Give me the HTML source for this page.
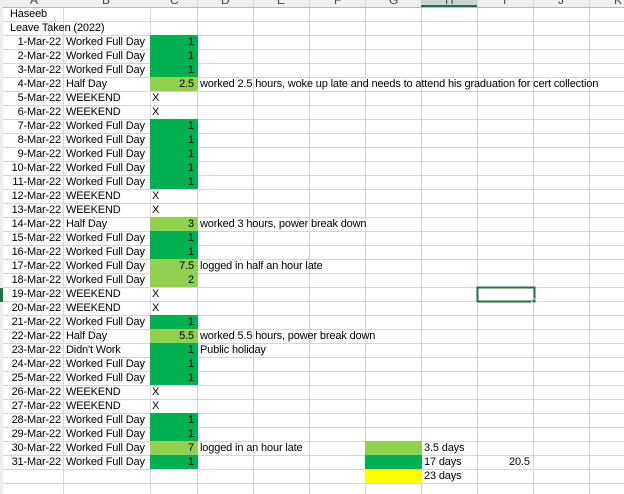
<!DOCTYPE html>
<html><head><style>
html,body{margin:0;padding:0;width:624px;height:494px;overflow:hidden;background:#fff}
.t{position:absolute;font-family:"Liberation Sans",sans-serif;font-size:11px;letter-spacing:-0.15px;line-height:15px;height:14px;white-space:nowrap;color:#000}
.a{right:563px;text-align:right}
.b{left:66px}
.c{right:430px;text-align:right}
.x{left:152px}
.d{left:200px}
.f{position:absolute;left:150px;width:48px;height:14px}
.dg{background:#00b050}.lg{background:#92d050}
.h{position:absolute;top:-7px;font-family:"Liberation Sans",sans-serif;font-size:12px;color:#444}
</style></head><body>
<svg width="624" height="494" style="position:absolute;left:0;top:0">
<rect x="0" y="0" width="624" height="7" fill="#efefef"/>
<rect x="0" y="0" width="3" height="494" fill="#efefef"/>
<g stroke="#d6d6d6" stroke-width="1">
<line x1="63.5" y1="7" x2="63.5" y2="494"/><line x1="150.5" y1="7" x2="150.5" y2="494"/>
<line x1="197.5" y1="0" x2="197.5" y2="494"/><line x1="253.5" y1="0" x2="253.5" y2="494"/>
<line x1="309.5" y1="0" x2="309.5" y2="494"/><line x1="365.5" y1="0" x2="365.5" y2="494"/>
<line x1="421.5" y1="0" x2="421.5" y2="494"/><line x1="477.5" y1="0" x2="477.5" y2="494"/>
<line x1="533.5" y1="0" x2="533.5" y2="494"/><line x1="589.5" y1="0" x2="589.5" y2="494"/>
<line x1="3" y1="7.5" x2="624" y2="7.5" stroke="#bbb"/>
<line x1="3" y1="21.5" x2="624" y2="21.5"/><line x1="3" y1="35.5" x2="624" y2="35.5"/>
<line x1="3" y1="49.5" x2="624" y2="49.5"/><line x1="3" y1="63.5" x2="624" y2="63.5"/>
<line x1="3" y1="77.5" x2="624" y2="77.5"/><line x1="3" y1="91.5" x2="624" y2="91.5"/>
<line x1="3" y1="105.5" x2="624" y2="105.5"/><line x1="3" y1="119.5" x2="624" y2="119.5"/>
<line x1="3" y1="133.5" x2="624" y2="133.5"/><line x1="3" y1="147.5" x2="624" y2="147.5"/>
<line x1="3" y1="161.5" x2="624" y2="161.5"/><line x1="3" y1="175.5" x2="624" y2="175.5"/>
<line x1="3" y1="189.5" x2="624" y2="189.5"/><line x1="3" y1="203.5" x2="624" y2="203.5"/>
<line x1="3" y1="217.5" x2="624" y2="217.5"/><line x1="3" y1="231.5" x2="624" y2="231.5"/>
<line x1="3" y1="245.5" x2="624" y2="245.5"/><line x1="3" y1="259.5" x2="624" y2="259.5"/>
<line x1="3" y1="273.5" x2="624" y2="273.5"/><line x1="3" y1="287.5" x2="624" y2="287.5"/>
<line x1="3" y1="301.5" x2="624" y2="301.5"/><line x1="3" y1="315.5" x2="624" y2="315.5"/>
<line x1="3" y1="329.5" x2="624" y2="329.5"/><line x1="3" y1="343.5" x2="624" y2="343.5"/>
<line x1="3" y1="357.5" x2="624" y2="357.5"/><line x1="3" y1="371.5" x2="624" y2="371.5"/>
<line x1="3" y1="385.5" x2="624" y2="385.5"/><line x1="3" y1="399.5" x2="624" y2="399.5"/>
<line x1="3" y1="413.5" x2="624" y2="413.5"/><line x1="3" y1="427.5" x2="624" y2="427.5"/>
<line x1="3" y1="441.5" x2="624" y2="441.5"/><line x1="3" y1="455.5" x2="624" y2="455.5"/>
<line x1="3" y1="469.5" x2="624" y2="469.5"/><line x1="3" y1="483.5" x2="624" y2="483.5"/>
</g>
<rect x="421" y="0" width="56" height="7" fill="#d2d2d2"/>
<line x1="421" y1="6" x2="477" y2="6" stroke="#217346" stroke-width="2"/>
<rect x="0" y="288" width="3" height="14" fill="#217346"/>
<rect x="365" y="441" width="57" height="14" fill="#92d050"/>
<rect x="365" y="455" width="57" height="14" fill="#00b050"/>
<rect x="365" y="469" width="57" height="14" fill="#ffff00"/>
<rect x="477.5" y="287.5" width="57" height="14" fill="none" stroke="#217346" stroke-width="2"/>
<rect x="532" y="299" width="4" height="4" fill="#217346" stroke="#fff" stroke-width="1"/>
</svg>
<div class="h" style="left:30px">A</div><div class="h" style="left:102px">B</div><div class="h" style="left:170px">C</div>
<div class="h" style="left:221px">D</div><div class="h" style="left:277px">E</div><div class="h" style="left:334px">F</div>
<div class="h" style="left:389px">G</div><div class="h" style="left:445px">H</div><div class="h" style="left:503px">I</div>
<div class="h" style="left:558px">J</div><div class="h" style="left:614px">K</div>

<div class="f dg" style="top:35px"></div><div class="f dg" style="top:49px"></div><div class="f dg" style="top:63px"></div>
<div class="f lg" style="top:77px"></div>
<div class="f dg" style="top:119px"></div><div class="f dg" style="top:133px"></div><div class="f dg" style="top:147px"></div><div class="f dg" style="top:161px"></div><div class="f dg" style="top:175px"></div>
<div class="f lg" style="top:217px"></div>
<div class="f dg" style="top:231px"></div><div class="f dg" style="top:245px"></div>
<div class="f lg" style="top:259px"></div><div class="f lg" style="top:273px"></div>
<div class="f dg" style="top:315px"></div>
<div class="f lg" style="top:329px"></div>
<div class="f dg" style="top:343px"></div><div class="f dg" style="top:357px"></div><div class="f dg" style="top:371px"></div>
<div class="f dg" style="top:413px"></div><div class="f dg" style="top:427px"></div>
<div class="f lg" style="top:441px"></div>
<div class="f dg" style="top:455px"></div>

<div class="t" style="left:10px;top:7px">Haseeb</div>
<div class="t" style="left:10px;top:21px">Leave Taken (2022)</div>

<div class="t a" style="top:35px">1-Mar-22</div><div class="t b" style="top:35px">Worked Full Day</div><div class="t c" style="top:35px">1</div>
<div class="t a" style="top:49px">2-Mar-22</div><div class="t b" style="top:49px">Worked Full Day</div><div class="t c" style="top:49px">1</div>
<div class="t a" style="top:63px">3-Mar-22</div><div class="t b" style="top:63px">Worked Full Day</div><div class="t c" style="top:63px">1</div>
<div class="t a" style="top:77px">4-Mar-22</div><div class="t b" style="top:77px">Half Day</div><div class="t c" style="top:77px">2.5</div><div class="t d" style="top:77px">worked 2.5 hours, woke up late and needs to attend his graduation for cert collection</div>
<div class="t a" style="top:91px">5-Mar-22</div><div class="t b" style="top:91px">WEEKEND</div><div class="t x" style="top:91px">X</div>
<div class="t a" style="top:105px">6-Mar-22</div><div class="t b" style="top:105px">WEEKEND</div><div class="t x" style="top:105px">X</div>
<div class="t a" style="top:119px">7-Mar-22</div><div class="t b" style="top:119px">Worked Full Day</div><div class="t c" style="top:119px">1</div>
<div class="t a" style="top:133px">8-Mar-22</div><div class="t b" style="top:133px">Worked Full Day</div><div class="t c" style="top:133px">1</div>
<div class="t a" style="top:147px">9-Mar-22</div><div class="t b" style="top:147px">Worked Full Day</div><div class="t c" style="top:147px">1</div>
<div class="t a" style="top:161px">10-Mar-22</div><div class="t b" style="top:161px">Worked Full Day</div><div class="t c" style="top:161px">1</div>
<div class="t a" style="top:175px">11-Mar-22</div><div class="t b" style="top:175px">Worked Full Day</div><div class="t c" style="top:175px">1</div>
<div class="t a" style="top:189px">12-Mar-22</div><div class="t b" style="top:189px">WEEKEND</div><div class="t x" style="top:189px">X</div>
<div class="t a" style="top:203px">13-Mar-22</div><div class="t b" style="top:203px">WEEKEND</div><div class="t x" style="top:203px">X</div>
<div class="t a" style="top:217px">14-Mar-22</div><div class="t b" style="top:217px">Half Day</div><div class="t c" style="top:217px">3</div><div class="t d" style="top:217px">worked 3 hours, power break down</div>
<div class="t a" style="top:231px">15-Mar-22</div><div class="t b" style="top:231px">Worked Full Day</div><div class="t c" style="top:231px">1</div>
<div class="t a" style="top:245px">16-Mar-22</div><div class="t b" style="top:245px">Worked Full Day</div><div class="t c" style="top:245px">1</div>
<div class="t a" style="top:259px">17-Mar-22</div><div class="t b" style="top:259px">Worked Full Day</div><div class="t c" style="top:259px">7.5</div><div class="t d" style="top:259px">logged in half an hour late</div>
<div class="t a" style="top:273px">18-Mar-22</div><div class="t b" style="top:273px">Worked Full Day</div><div class="t c" style="top:273px">2</div>
<div class="t a" style="top:287px">19-Mar-22</div><div class="t b" style="top:287px">WEEKEND</div><div class="t x" style="top:287px">X</div>
<div class="t a" style="top:301px">20-Mar-22</div><div class="t b" style="top:301px">WEEKEND</div><div class="t x" style="top:301px">X</div>
<div class="t a" style="top:315px">21-Mar-22</div><div class="t b" style="top:315px">Worked Full Day</div><div class="t c" style="top:315px">1</div>
<div class="t a" style="top:329px">22-Mar-22</div><div class="t b" style="top:329px">Half Day</div><div class="t c" style="top:329px">5.5</div><div class="t d" style="top:329px">worked 5.5 hours, power break down</div>
<div class="t a" style="top:343px">23-Mar-22</div><div class="t b" style="top:343px">Didn't Work</div><div class="t c" style="top:343px">1</div><div class="t d" style="top:343px">Public holiday</div>
<div class="t a" style="top:357px">24-Mar-22</div><div class="t b" style="top:357px">Worked Full Day</div><div class="t c" style="top:357px">1</div>
<div class="t a" style="top:371px">25-Mar-22</div><div class="t b" style="top:371px">Worked Full Day</div><div class="t c" style="top:371px">1</div>
<div class="t a" style="top:385px">26-Mar-22</div><div class="t b" style="top:385px">WEEKEND</div><div class="t x" style="top:385px">X</div>
<div class="t a" style="top:399px">27-Mar-22</div><div class="t b" style="top:399px">WEEKEND</div><div class="t x" style="top:399px">X</div>
<div class="t a" style="top:413px">28-Mar-22</div><div class="t b" style="top:413px">Worked Full Day</div><div class="t c" style="top:413px">1</div>
<div class="t a" style="top:427px">29-Mar-22</div><div class="t b" style="top:427px">Worked Full Day</div><div class="t c" style="top:427px">1</div>
<div class="t a" style="top:441px">30-Mar-22</div><div class="t b" style="top:441px">Worked Full Day</div><div class="t c" style="top:441px">7</div><div class="t d" style="top:441px">logged in an hour late</div>
<div class="t a" style="top:455px">31-Mar-22</div><div class="t b" style="top:455px">Worked Full Day</div><div class="t c" style="top:455px">1</div>

<div class="t" style="left:424px;top:441px">3.5 days</div>
<div class="t" style="left:424px;top:455px">17 days</div>
<div class="t" style="left:509px;top:455px">20.5</div>
<div class="t" style="left:424px;top:469px">23 days</div>
</body></html>
